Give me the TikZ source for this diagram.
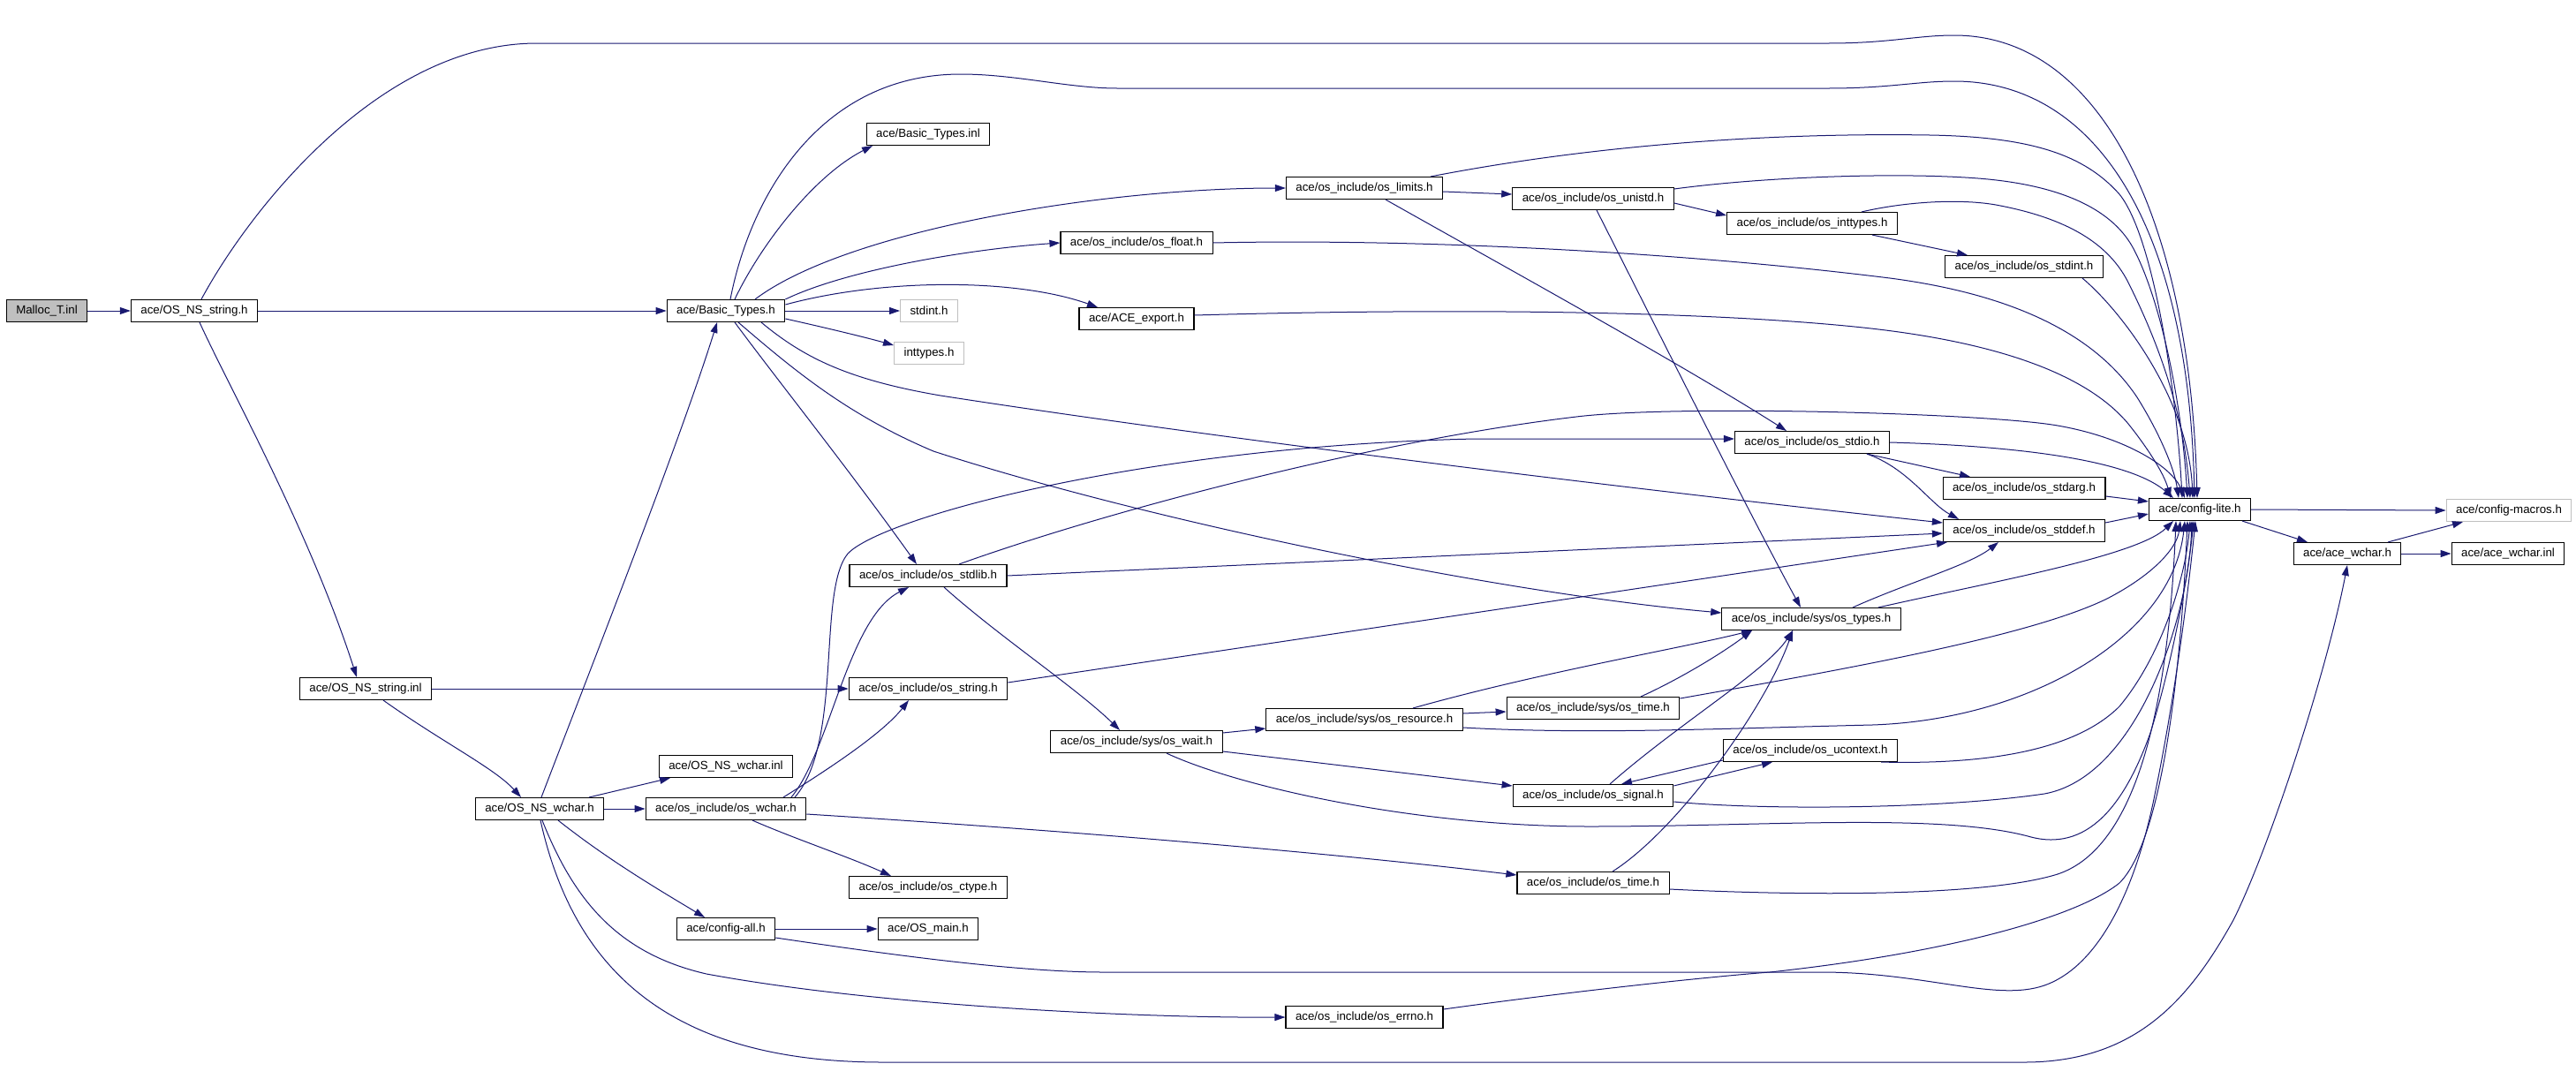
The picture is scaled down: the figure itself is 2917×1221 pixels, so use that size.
\documentclass[tikz,border=0pt]{standalone}
\usepackage{fontspec}
\setmainfont{Liberation Sans}
\usetikzlibrary{arrows.meta}
\definecolor{edgeblue}{HTML}{191970}
\definecolor{grayfill}{HTML}{BFBFBF}

\begin{document}
\begin{tikzpicture}[x=1pt, y=-1pt]
    \tikzstyle{every node}=[font=\fontsize{13.3}{16}\selectfont]
    \tikzstyle{file}=[draw=black, fill=white, line width=1.1pt, inner xsep=11pt, inner ysep=0pt, minimum height=25pt]
    \tikzstyle{current}=[file, fill=grayfill]
    \tikzstyle{extern}=[file, draw=grayfill]
    \tikzstyle{dep}=[draw=edgeblue, line width=1pt, -{Triangle[length=12pt,width=8pt]}]
    \useasboundingbox (0,0) rectangle (2917,1221);

    % files, one column per rank
    \node[current] (malloc) at (53,352) {Malloc\_T.inl};
    \node[file] (nsstr) at (220,352) {ace/OS\_NS\_string.h};
    \node[file] (nsstrinl) at (414,780) {ace/OS\_NS\_string.inl};
    \node[file] (nswchar) at (611,916) {ace/OS\_NS\_wchar.h};
    \node[file] (btypes) at (822,352) {ace/Basic\_Types.h};
    \node[file] (nswcharinl) at (822,868) {ace/OS\_NS\_wchar.inl};
    \node[file] (oswchar) at (822,916) {ace/os\_include/os\_wchar.h};
    \node[file] (cfgall) at (822,1052) {ace/config-all.h};
    \node[file] (btinl) at (1051,152) {ace/Basic\_Types.inl};
    \node[extern] (stdint) at (1052,352) {stdint.h};
    \node[extern] (inttypes) at (1052,400) {inttypes.h};
    \node[file] (stdlib) at (1051,652) {ace/os\_include/os\_stdlib.h};
    \node[file] (string) at (1051,780) {ace/os\_include/os\_string.h};
    \node[file] (ctype) at (1051,1005) {ace/os\_include/os\_ctype.h};
    \node[file] (osmain) at (1051,1052) {ace/OS\_main.h};
    \node[file] (float) at (1287,275) {ace/os\_include/os\_float.h};
    \node[file] (export) at (1287,361) {ace/ACE\_export.h};
    \node[file] (wait) at (1287,840) {ace/os\_include/sys/os\_wait.h};
    \node[file] (limits) at (1545,213) {ace/os\_include/os\_limits.h};
    \node[file] (resource) at (1545,815) {ace/os\_include/sys/os\_resource.h};
    \node[file] (errno) at (1545,1152) {ace/os\_include/os\_errno.h};
    \node[file] (unistd) at (1804,225) {ace/os\_include/os\_unistd.h};
    \node[file] (systime) at (1804,802) {ace/os\_include/sys/os\_time.h};
    \node[file] (signal) at (1804,901) {ace/os\_include/os\_signal.h};
    \node[file] (time) at (1804,1000) {ace/os\_include/os\_time.h};
    \node[file] (inttyp) at (2052,253) {ace/os\_include/os\_inttypes.h};
    \node[file] (stdio) at (2052,501) {ace/os\_include/os\_stdio.h};
    \node[file] (types) at (2051,701) {ace/os\_include/sys/os\_types.h};
    \node[file] (ucontext) at (2050,850) {ace/os\_include/os\_ucontext.h};
    \node[file] (osstdint) at (2292,302) {ace/os\_include/os\_stdint.h};
    \node[file] (stdarg) at (2292,553) {ace/os\_include/os\_stdarg.h};
    \node[file] (stddef) at (2292,601) {ace/os\_include/os\_stddef.h};
    \node[file] (cfglite) at (2491,577) {ace/config-lite.h};
    \node[file] (acewchar) at (2658,627) {ace/ace\_wchar.h};
    \node[extern] (cfgmacros) at (2841,578) {ace/config-macros.h};
    \node[file] (acewcharinl) at (2840,627) {ace/ace\_wchar.inl};

    % Malloc_T.inl
    \draw[dep] (malloc.east) -- (nsstr.west);
    % ace/OS_NS_string.h
    \draw[dep] (nsstr.east) -- (btypes.west);
    \draw[dep] ([xshift=8pt]nsstr.north) .. controls (280,242) and (428,49) .. (608,49) -- (2070,49) .. controls (2140,49) and (2170,40) .. (2213,40) .. controls (2380,40) and (2480,250) .. ([xshift=-3pt]cfglite.north);
    \draw[dep] ([xshift=6pt]nsstr.south) .. controls (260,440) and (350,600) .. ([xshift=-10pt]nsstrinl.north);

    % ace/Basic_Types.h
    \draw[dep] ([xshift=10pt]btypes.north) .. controls (860,280) and (920,200) .. ([xshift=-63pt]btinl.south);
    \draw[dep] ([xshift=5pt]btypes.north) .. controls (850,220) and (930,84) .. (1088,84) .. controls (1150,84) and (1210,100) .. (1265,100) -- (2070,100) .. controls (2140,100) and (2170,92) .. (2213,92) .. controls (2370,92) and (2478,250) .. ([xshift=-6pt]cfglite.north);
    \draw[dep] ([xshift=33pt]btypes.north) .. controls (960,260) and (1250,213) .. (limits.west);
    \draw[dep] (btypes.north east) .. controls (960,305) and (1100,282) .. (float.west);
    \draw[dep] ([yshift=7pt]btypes.east) .. controls (1000,315) and (1150,315) .. ([xshift=-44pt]export.north);
    \draw[dep] (btypes.east) -- (stdint.west);
    \draw[dep] ([yshift=-9pt]btypes.east) .. controls (930,370) and (980,382) .. ([yshift=9pt]inttypes.west);
    \draw[dep] ([xshift=40pt]btypes.south) .. controls (910,405) and (960,430) .. (1065,448) .. controls (1400,500) and (1900,560) .. ([yshift=9pt]stddef.west);
    \draw[dep] ([xshift=14pt]btypes.south) .. controls (900,420) and (960,470) .. (1057,511) .. controls (1300,590) and (1700,672) .. ([yshift=7pt]types.west);
    \draw[dep] ([xshift=10pt]btypes.south) .. controls (880,430) and (960,530) .. ([xshift=-13pt]stdlib.north);

    % ace/os_include/os_limits.h
    \draw[dep] ([yshift=-4pt]limits.east) -- ([yshift=5pt]unistd.west);
    \draw[dep] ([xshift=75pt]limits.north) .. controls (1800,165) and (2000,150) .. (2185,153) .. controls (2300,155) and (2360,175) .. (2400,220) .. controls (2440,270) and (2465,450) .. ([xshift=-20pt]cfglite.north);
    \draw[dep] ([xshift=24pt]limits.south) .. controls (1700,300) and (1900,410) .. ([xshift=-29pt]stdio.north);

    % ace/os_include/os_unistd.h
    \draw[dep] ([yshift=-5pt]unistd.east) -- ([yshift=9pt]inttyp.west);
    \draw[dep] ([yshift=11pt]unistd.east) .. controls (2000,200) and (2150,195) .. (2240,202) .. controls (2330,209) and (2390,235) .. (2415,280) .. controls (2445,335) and (2470,450) .. ([xshift=-14pt]cfglite.north);
    \draw[dep] ([xshift=4pt]unistd.south) .. controls (1880,380) and (1980,580) .. ([xshift=-12pt]types.north);

    % ace/os_include/os_inttypes.h
    \draw[dep] ([xshift=68pt]inttyp.south) -- ([xshift=-64pt]osstdint.north);
    \draw[dep] ([xshift=56pt]inttyp.north) .. controls (2160,228) and (2220,225) .. (2260,232) .. controls (2330,245) and (2385,270) .. (2410,320) .. controls (2440,380) and (2472,460) .. ([xshift=-11pt]cfglite.north);
    \draw[dep] ([xshift=66pt]osstdint.south) .. controls (2400,350) and (2478,450) .. ([xshift=-8pt]cfglite.north);

    % ace/os_include/os_float.h, ace/ACE_export.h
    \draw[dep] (float.east) .. controls (1600,270) and (1900,285) .. (2140,315) .. controls (2300,336) and (2380,390) .. (2420,450) .. controls (2445,490) and (2462,530) .. ([xshift=-24pt]cfglite.north);
    \draw[dep] ([yshift=4pt]export.east) .. controls (1600,350) and (1900,350) .. (2100,370) .. controls (2250,385) and (2360,420) .. (2410,480) .. controls (2430,505) and (2450,535) .. ([xshift=-33pt]cfglite.north);

    % ace/os_include/os_stdio.h
    \draw[dep] (stdio.east) .. controls (2280,505) and (2410,520) .. ([xshift=-30pt]cfglite.north);
    \draw[dep] ([xshift=62pt]stdio.south) -- ([xshift=-61pt]stdarg.north);
    \draw[dep] ([xshift=62pt]stdio.south) .. controls (2160,530) and (2185,570) .. ([xshift=-74pt]stddef.north);
    \draw[dep] ([yshift=-9pt]stdarg.east) -- ([yshift=9pt]cfglite.west);
    \draw[dep] ([yshift=9pt]stddef.east) -- ([yshift=-5pt]cfglite.west);

    % ace/config-lite.h, ace/ace_wchar.h
    \draw[dep] (cfglite.east) -- (cfgmacros.west);
    \draw[dep] ([xshift=48pt]cfglite.south) -- ([xshift=-45pt]acewchar.north);
    \draw[dep] ([xshift=46pt]acewchar.north) -- ([xshift=-52pt]cfgmacros.south);
    \draw[dep] (acewchar.east) -- (acewcharinl.west);

    % ace/os_include/os_stdlib.h, os_string.h
    \draw[dep] ([xshift=35pt]stdlib.north) .. controls (1250,580) and (1550,500) .. (1785,472) .. controls (1900,458) and (2250,468) .. (2330,482) .. controls (2410,496) and (2460,530) .. ([xshift=-17pt]cfglite.north);
    \draw[dep] (stdlib.east) -- ([yshift=-3pt]stddef.west);
    \draw[dep] ([xshift=18pt]stdlib.south) .. controls (1130,720) and (1220,780) .. ([xshift=-19pt]wait.north);
    \draw[dep] ([yshift=7pt]string.east) -- ([xshift=-87pt]stddef.south);

    % ace/OS_NS_string.inl
    \draw[dep] (nsstrinl.east) -- (string.west);
    \draw[dep] ([xshift=20pt]nsstrinl.south) .. controls (500,840) and (560,870) .. ([xshift=-21pt]nswchar.north);

    % ace/OS_NS_wchar.h
    \draw[dep] ([xshift=2pt]nswchar.north) .. controls (660,780) and (770,500) .. ([xshift=-10pt]btypes.south);
    \draw[dep] ([xshift=56pt]nswchar.north) -- ([xshift=-63pt]nswcharinl.south);
    \draw[dep] (nswchar.east) -- (oswchar.west);
    \draw[dep] ([xshift=21pt]nswchar.south) .. controls (690,975) and (750,1010) .. ([xshift=-24pt]cfgall.north);
    \draw[dep] ([xshift=3pt]nswchar.south) .. controls (650,1020) and (700,1080) .. (800,1103) .. controls (1000,1140) and (1300,1153) .. (errno.west);
    \draw[dep] ([xshift=1pt]nswchar.south) .. controls (650,1100) and (760,1203) .. (1000,1203) -- (2292,1203) .. controls (2420,1203) and (2480,1130) .. (2529,1042) .. controls (2570,960) and (2635,760) .. (acewchar.south);

    % ace/os_include/os_wchar.h
    \draw[dep] ([xshift=74pt]oswchar.north) .. controls (940,850) and (960,700) .. ([xshift=-22pt]stdlib.south);
    \draw[dep] ([xshift=78pt]oswchar.north) .. controls (955,840) and (925,670) .. (960,627) .. controls (1000,585) and (1300,505) .. (1670,497) -- ([yshift=4pt]stdio.west);
    \draw[dep] ([xshift=65pt]oswchar.north) .. controls (940,870) and (1000,830) .. ([xshift=-22pt]string.south);
    \draw[dep] ([xshift=30pt]oswchar.south) .. controls (900,950) and (960,970) .. ([xshift=-42pt]ctype.north);
    \draw[dep] ([yshift=-6pt]oswchar.east) .. controls (1200,940) and (1500,965) .. ([yshift=9pt]time.west);

    % ace/config-all.h
    \draw[dep] (cfgall.east) -- (osmain.west);
    \draw[dep] ([yshift=-10pt]cfgall.east) .. controls (1000,1080) and (1150,1101) .. (1250,1101) -- (2062,1101) .. controls (2180,1101) and (2260,1135) .. (2315,1116) .. controls (2380,1093) and (2420,1000) .. (2440,900) .. controls (2465,780) and (2480,650) .. ([xshift=-5pt]cfglite.south);

    % ace/os_include/sys/os_wait.h
    \draw[dep] ([yshift=10pt]wait.east) -- ([yshift=-10pt]resource.west);
    \draw[dep] ([yshift=-11pt]wait.east) -- ([yshift=11pt]signal.west);
    \draw[dep] ([xshift=34pt]wait.south) .. controls (1400,890) and (1600,936) .. (1800,936) .. controls (2000,936) and (2200,920) .. (2300,948) .. controls (2370,966) and (2410,900) .. (2435,830) .. controls (2460,750) and (2478,650) .. ([xshift=-7pt]cfglite.south);

    % ace/os_include/sys/os_resource.h, sys/os_time.h
    \draw[dep] ([yshift=7pt]resource.east) -- ([yshift=-4pt]systime.west);
    \draw[dep] ([xshift=55pt]resource.north) .. controls (1750,760) and (1900,735) .. ([xshift=-67pt]types.south);
    \draw[dep] ([yshift=-9pt]resource.east) .. controls (1800,832) and (1950,825) .. (2120,821) .. controls (2300,815) and (2460,720) .. ([xshift=-17pt]cfglite.south);
    \draw[dep] ([xshift=54pt]systime.north) .. controls (1900,770) and (1950,740) .. ([xshift=-67pt]types.south);
    \draw[dep] ([yshift=11pt]systime.east) .. controls (2100,756) and (2300,720) .. (2386,678) .. controls (2440,650) and (2465,620) .. ([xshift=-22pt]cfglite.south);

    % ace/os_include/os_signal.h, os_ucontext.h
    \draw[dep] ([xshift=19pt]signal.north) .. controls (1900,820) and (2000,760) .. ([xshift=-21pt]types.south);
    \draw[dep] ([yshift=-2pt]signal.north east) -- ([xshift=-43pt]ucontext.south);
    \draw[dep] ([yshift=-7pt]signal.east) .. controls (2000,918) and (2200,916) .. (2315,899) .. controls (2420,880) and (2478,700) .. ([xshift=-9pt]cfglite.south);
    \draw[dep] ([yshift=-11pt]ucontext.west) -- ([xshift=32pt]signal.north);
    \draw[dep] ([xshift=80pt]ucontext.south) .. controls (2250,866) and (2350,850) .. (2400,800) .. controls (2450,740) and (2475,650) .. ([xshift=-11pt]cfglite.south);

    % ace/os_include/os_time.h, os_errno.h
    \draw[dep] ([xshift=22pt]time.north) .. controls (1900,940) and (2000,800) .. ([xshift=-21pt]types.south);
    \draw[dep] ([yshift=-7pt]time.east) .. controls (2050,1015) and (2250,1015) .. (2330,990) .. controls (2420,960) and (2455,800) .. ([xshift=-27pt]cfglite.south);
    \draw[dep] ([yshift=9pt]errno.east) .. controls (1800,1120) and (1950,1105) .. (2004,1101) .. controls (2200,1080) and (2350,1040) .. (2400,1000) .. controls (2450,950) and (2470,750) .. ([xshift=-14pt]cfglite.south);

    % ace/os_include/sys/os_types.h
    \draw[dep] ([xshift=47pt]types.north) .. controls (2160,660) and (2230,640) .. ([xshift=-29pt]stddef.south);
    \draw[dep] ([xshift=76pt]types.north) .. controls (2250,660) and (2420,630) .. ([xshift=-30pt]cfglite.south);
\end{tikzpicture}
\end{document}
